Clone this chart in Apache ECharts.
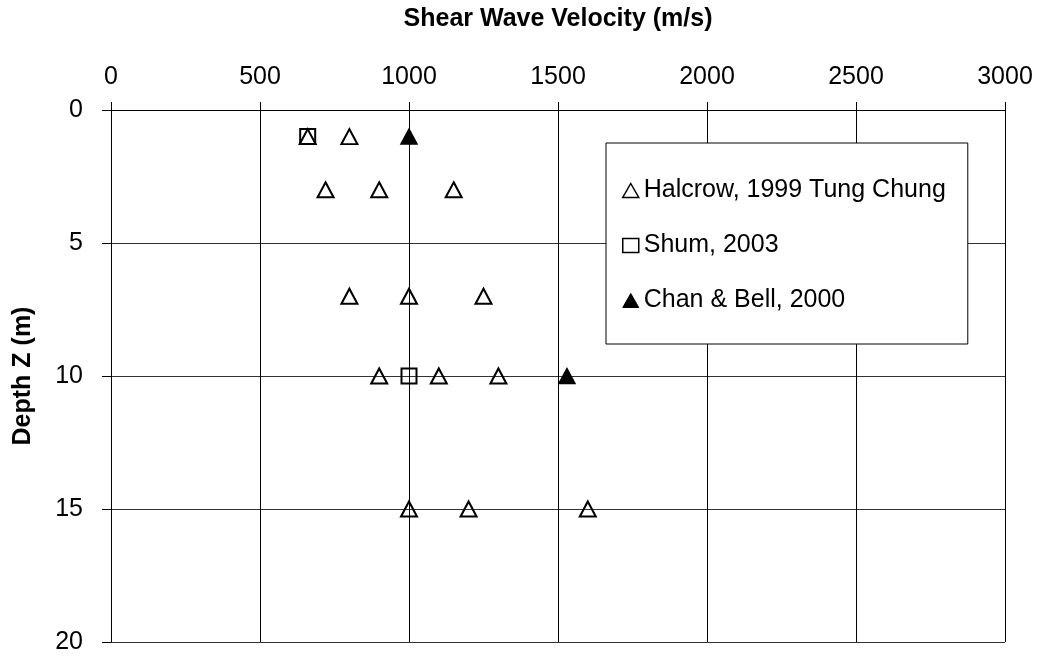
<!DOCTYPE html>
<html>
<head>
<meta charset="utf-8">
<script src="https://cdn.jsdelivr.net/npm/echarts@6/dist/echarts.min.js"></script>
<style>
  html, body { margin: 0; padding: 0; background: #fff; }
  #chart { width: 1044px; height: 660px; }
</style>
</head>
<body>
<div id="chart"></div>
<script>
// velocity (m/s) and depth (m)
const halcrowV = [660, 800, 720, 900, 1150, 800, 1000, 1250, 900, 1100, 1300, 1000, 1200, 1600];
const halcrowZ = [1, 1, 3, 3, 3, 7, 7, 7, 10, 10, 10, 15, 15, 15];
const shumV = [660, 1000];
const shumZ = [1, 10];
const chanV = [1000, 1530];
const chanZ = [1, 10];

const seriesNames = ['Halcrow, 1999 Tung Chung', 'Shum, 2003', 'Chan & Bell, 2000'];
const font = "'Liberation Sans', Arial, sans-serif";

const pairs = (xs, ys) => xs.map((x, i) => [x, ys[i]]);

const chart = echarts.init(document.getElementById('chart'));

// open marker style
const hollow = { color: 'rgba(0,0,0,0)', borderColor: '#000', borderWidth: 2, opacity: 1 };

chart.setOption({
  animation: false,
  backgroundColor: '#fff',
  textStyle: { fontFamily: font, color: '#000' },
  grid: { left: 111, top: 110, right: 39, bottom: 18, outerBoundsMode: 'none', containLabel: false },
  xAxis: {
    type: 'value',
    position: 'top',
    min: 0,
    max: 3000,
    interval: 500,
    name: 'Shear Wave Velocity (m/s)',
    nameLocation: 'middle',
    nameGap: 78,
    nameTextStyle: { fontSize: 25, fontWeight: 'bold', color: '#000', fontFamily: font },
    axisLine: { show: true, lineStyle: { color: '#000', width: 1 } },
    axisTick: { show: true, length: 8, lineStyle: { color: '#000' } },
    axisLabel: { fontSize: 25, color: '#000', margin: 20, fontFamily: font, formatter: (v) => String(v) },
    splitLine: { show: true, lineStyle: { color: '#000', width: 1 } },
  },
  yAxis: {
    type: 'value',
    inverse: true,
    min: 0,
    max: 20,
    interval: 5,
    name: 'Depth Z (m)',
    nameLocation: 'middle',
    nameGap: 75,
    nameTextStyle: { fontSize: 25, fontWeight: 'bold', color: '#000', fontFamily: font },
    axisLine: { show: true, lineStyle: { color: '#000', width: 1 } },
    axisTick: { show: true, length: 9, lineStyle: { color: '#000' } },
    axisLabel: { fontSize: 25, color: '#000', margin: 28, fontFamily: font, formatter: (v) => String(v) },
    splitLine: { show: true, lineStyle: { color: '#333', width: 1 } },
  },
  legend: {
    orient: 'vertical',
    left: 606,
    top: 143,
    padding: [35, 22, 31, 16],
    itemGap: 30,
    itemWidth: 16,
    itemHeight: 14,
    backgroundColor: '#fff',
    borderColor: '#000',
    borderWidth: 1,
    textStyle: { fontSize: 25, lineHeight: 24, color: '#000', fontFamily: font },
    data: [
      { name: seriesNames[0], icon: 'triangle', itemStyle: { color: 'rgba(0,0,0,0)', borderColor: '#000', borderWidth: 1.5 } },
      { name: seriesNames[1], icon: 'rect', itemStyle: { color: 'rgba(0,0,0,0)', borderColor: '#000', borderWidth: 1.5 } },
      { name: seriesNames[2], icon: 'triangle', itemStyle: { color: '#000', borderColor: '#000', borderWidth: 1 } },
    ],
  },
  series: [
    {
      name: seriesNames[0],
      type: 'scatter',
      symbol: 'triangle',
      symbolSize: [16, 15],
      itemStyle: hollow,
      data: pairs(halcrowV, halcrowZ),
    },
    {
      name: seriesNames[1],
      type: 'scatter',
      symbol: 'rect',
      symbolSize: [15, 15],
      itemStyle: hollow,
      data: pairs(shumV, shumZ),
    },
    {
      name: seriesNames[2],
      type: 'scatter',
      symbol: 'triangle',
      symbolSize: [16, 15],
      itemStyle: { color: '#000', borderColor: '#000', borderWidth: 1.5, opacity: 1 },
      data: pairs(chanV, chanZ),
    },
  ],
});
</script>
</body>
</html>
